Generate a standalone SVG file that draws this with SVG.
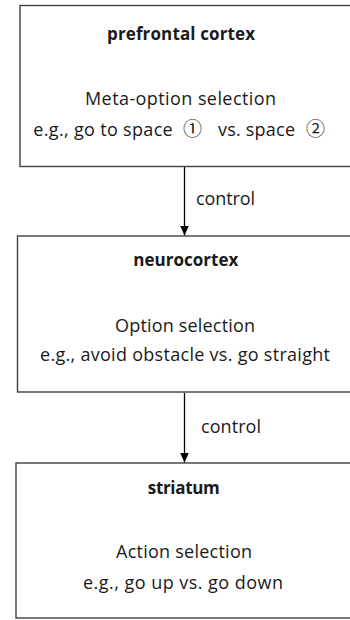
<svg xmlns="http://www.w3.org/2000/svg" width="350" height="620" viewBox="0 0 350 620">
<style>
.box{fill:#fff;stroke:#404040;stroke-width:1.4}
.t{font-family:"Open Sans","Liberation Sans",sans-serif;font-size:18px;fill:#1a1a1a;text-anchor:middle}
.s{font-family:"Open Sans","Liberation Sans",sans-serif;font-size:18px;fill:#1a1a1a}
.c{font-family:"Noto Sans CJK SC","DejaVu Sans",sans-serif;font-size:19px;fill:#1a1a1a;text-anchor:middle}
.b{font-weight:bold;font-size:17px}
.lbl{font-family:"Open Sans","Liberation Sans",sans-serif;font-size:18px;fill:#1a1a1a}
.edge{stroke:#000;stroke-width:1.3;fill:none}
</style>
<defs>
<marker id="ah" viewBox="0 0 10 10" refX="10" refY="5" markerWidth="10" markerHeight="10" markerUnits="userSpaceOnUse" orient="auto">
<path d="M0,0.5 L10,5 L0,9.5 Z" fill="#000"/>
</marker>
</defs>
<rect width="350" height="620" fill="#fff"/>
<g id="connectors">
<line class="edge" x1="184.5" y1="167" x2="184.5" y2="235.5" marker-end="url(#ah)"/>
<text class="lbl" x="196" y="205" textLength="59" lengthAdjust="spacing">control</text>
<line class="edge" x1="184.5" y1="393" x2="184.5" y2="462.5" marker-end="url(#ah)"/>
<text class="lbl" x="201" y="433" textLength="60" lengthAdjust="spacing">control</text>
</g>
<g id="prefrontal">
<rect class="box" x="20" y="5.5" width="345" height="161"/>
<text class="t b" x="181" y="40" textLength="148" lengthAdjust="spacing">prefrontal cortex</text>
<text class="t" x="180.5" y="105" textLength="191" lengthAdjust="spacing">Meta-option selection</text>
<text class="s" x="33.3" y="136" textLength="139.4" lengthAdjust="spacing">e.g., go to space</text>
<text class="c" x="192.5" y="136">①</text>
<text class="s" x="218" y="136" textLength="77" lengthAdjust="spacing">vs. space</text>
<text class="c" x="315.5" y="136">②</text>
</g>
<g id="neurocortex">
<rect class="box" x="17.5" y="236" width="350" height="156"/>
<text class="t b" x="185.8" y="266" textLength="105" lengthAdjust="spacing">neurocortex</text>
<text class="t" x="185" y="332" textLength="140" lengthAdjust="spacing">Option selection</text>
<text class="t" x="185" y="361" textLength="290" lengthAdjust="spacing">e.g., avoid obstacle vs. go straight</text>
</g>
<g id="striatum">
<rect class="box" x="16" y="463" width="350" height="155"/>
<text class="t b" x="183.8" y="494" textLength="72" lengthAdjust="spacing">striatum</text>
<text class="t" x="184" y="558" textLength="136" lengthAdjust="spacing">Action selection</text>
<text class="t" x="183" y="589" textLength="200" lengthAdjust="spacing">e.g., go up vs. go down</text>
</g>
</svg>
